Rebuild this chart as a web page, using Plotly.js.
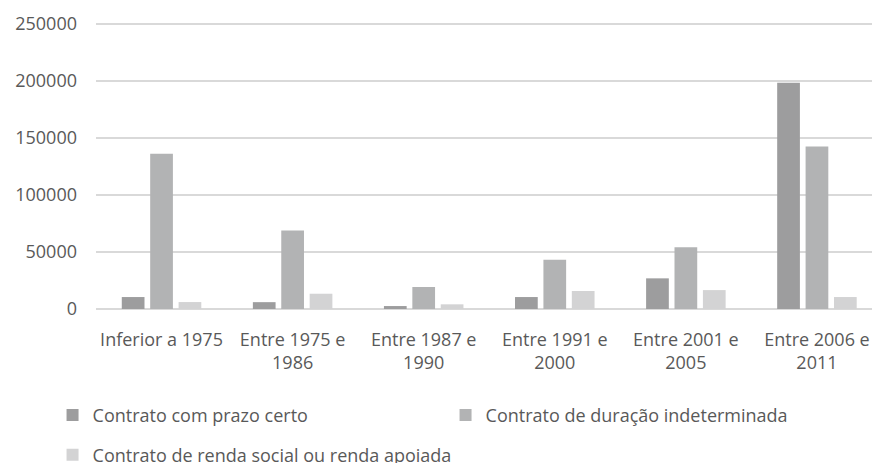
<!DOCTYPE html>
<html>
<head>
<meta charset="utf-8">
<script src="https://cdn.plot.ly/plotly-3.0.1.min.js"></script>
<style>html,body{margin:0;padding:0;background:#fff;overflow:hidden}</style>
</head>
<body>
<div id="chart" style="width:872px;height:463px"></div>
<script>
const categories = ["Inferior a 1975", "Entre 1975 e<br>1986", "Entre 1987 e<br>1990", "Entre 1991 e<br>2000", "Entre 2001 e<br>2005", "Entre 2006 e<br>2011"];
const seriesNames = ["Contrato com prazo certo", "Contrato de duração indeterminada", "Contrato de renda social ou renda apoiada"];
const prazoCerto = [10500, 6000, 2600, 10500, 26900, 198500];
const duracaoIndeterminada = [136200, 68900, 19300, 43200, 54300, 142700];
const rendaSocial = [6100, 13400, 4100, 15800, 16600, 10500];
const yTicks = [0, 50000, 100000, 150000, 200000, 250000];

const colors = ["#9d9d9e", "#b2b3b4", "#d3d3d4"];
const font = {family: "Open Sans, sans-serif", size: 18, color: "#595959"};

const traces = [prazoCerto, duracaoIndeterminada, rendaSocial].map((vals, i) => ({
  type: "bar",
  name: seriesNames[i],
  x: categories,
  y: vals,
  marker: {color: colors[i]},
  legend: i < 2 ? "legend" : "legend2",
  hoverinfo: "x+y+name"
}));

const layout = {
  width: 872,
  height: 463,
  margin: {l: 95.5, r: 0, t: 22.86, b: 153.5, autoexpand: false},
  paper_bgcolor: "#fff",
  plot_bgcolor: "#fff",
  font: font,
  barmode: "group",
  bargap: 0.35,
  bargroupgap: 0.2,
  xaxis: {
    type: "category",
    range: [-0.5, 5.42],
    showgrid: false,
    showline: false,
    ticks: "",
    ticklabelstandoff: 18,
    tickfont: font,
    fixedrange: true
  },
  yaxis: {
    range: [0, 251000],
    tickvals: yTicks,
    tickformat: "d",
    gridcolor: "#d9d9d9",
    gridwidth: 1.5,
    zeroline: true,
    zerolinecolor: "#d9d9d9",
    zerolinewidth: 1.5,
    showline: false,
    ticks: "",
    ticklabelstandoff: 18,
    tickfont: font,
    fixedrange: true
  },
  showlegend: true,
  legend: {
    orientation: "h",
    x: -0.056, xanchor: "left",
    y: -0.3716, yanchor: "middle",
    entrywidth: 348,
    font: font,
    bgcolor: "rgba(0,0,0,0)"
  },
  legend2: {
    orientation: "h",
    x: -0.056, xanchor: "left",
    y: -0.511, yanchor: "middle",
    font: font,
    bgcolor: "rgba(0,0,0,0)"
  }
};

Plotly.newPlot("chart", traces, layout, {displayModeBar: false, staticPlot: true});
</script>
</body>
</html>
